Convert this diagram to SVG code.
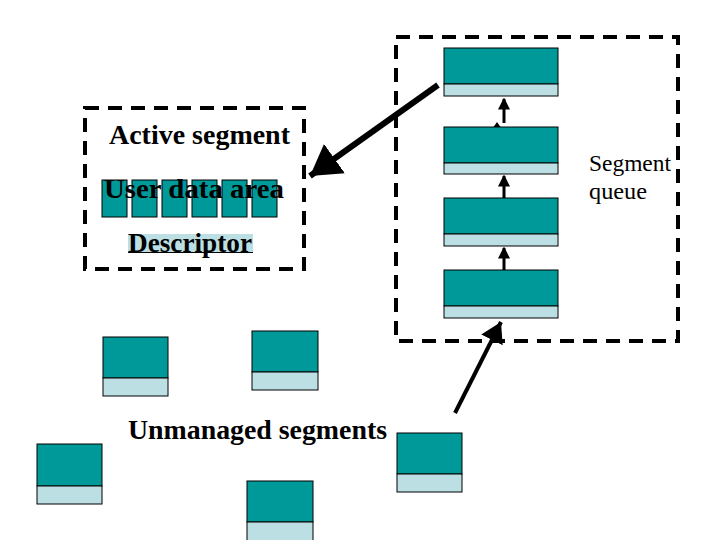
<svg xmlns="http://www.w3.org/2000/svg" width="720" height="540" viewBox="0 0 720 540">
<style>
.frame{fill:none;stroke:#000;stroke-width:4;stroke-dasharray:14 9}
.top{fill:#009999;stroke:#000;stroke-width:1}
.bot{fill:#BBDFE2;stroke:#000;stroke-width:1}
.bold{font-family:"Liberation Serif","Times New Roman",serif;font-weight:bold;font-size:27px;fill:#000}
.reg{font-family:"Liberation Serif","Times New Roman",serif;font-size:24px;fill:#000}
.conn{stroke:#000;fill:none}
</style>
<defs>
<marker id="bigHead" markerWidth="6" markerHeight="6" refX="5" refY="3" orient="auto" markerUnits="strokeWidth">
<path d="M0,0 L5,3 L0,6 z" fill="#000"/>
</marker>
<marker id="smallHead" markerWidth="4" markerHeight="4" refX="3.5" refY="2" orient="auto" markerUnits="strokeWidth">
<path d="M0,0 L4,2 L0,4 z" fill="#000"/>
</marker>
</defs>
<rect width="720" height="540" fill="#fff"/>

<g id="active-segment">
<rect class="frame" x="85" y="108" width="219" height="161"/>
<text class="bold" x="109" y="144" textLength="181" lengthAdjust="spacingAndGlyphs">Active segment</text>
<g id="user-data-area">
<rect class="top" x="102" y="180" width="25" height="37"/>
<rect class="top" x="132" y="180" width="25" height="37"/>
<rect class="top" x="162" y="180" width="25" height="37"/>
<rect class="top" x="192" y="180" width="25" height="37"/>
<rect class="top" x="222" y="180" width="25" height="37"/>
<rect class="top" x="252" y="180" width="25" height="37"/>
<text class="bold" x="104" y="198" textLength="180" lengthAdjust="spacingAndGlyphs">User data area</text>
</g>
<g id="descriptor">
<rect x="128" y="234" width="125" height="19" fill="#BBDFE2"/>
<line x1="128" y1="252.5" x2="253" y2="252.5" stroke="#000" stroke-width="1"/>
<text class="bold" x="128" y="252" textLength="124" lengthAdjust="spacingAndGlyphs">Descriptor</text>
</g>
</g>

<g id="segment-queue">
<rect class="frame" x="396" y="37" width="282" height="304"/>
<text class="reg" x="589" y="171" textLength="82" lengthAdjust="spacingAndGlyphs">Segment</text>
<text class="reg" x="589" y="199" textLength="58" lengthAdjust="spacingAndGlyphs">queue</text>
</g>

<g id="q1"><rect class="top" x="444" y="48" width="114" height="36"/><rect class="bot" x="444" y="84" width="114" height="12"/></g>
<g id="q2"><rect class="top" x="444" y="127" width="114" height="36"/><rect class="bot" x="444" y="163" width="114" height="11"/></g>
<g id="q3"><rect class="top" x="444" y="198" width="114" height="36"/><rect class="bot" x="444" y="234" width="114" height="12"/></g>
<g id="q4"><rect class="top" x="444" y="270" width="114" height="36"/><rect class="bot" x="444" y="306" width="114" height="12"/></g>

<g id="u1"><rect class="top" x="103" y="337" width="65" height="41"/><rect class="bot" x="103" y="378" width="65" height="18"/></g>
<g id="u2"><rect class="top" x="252" y="331" width="66" height="41"/><rect class="bot" x="252" y="372" width="66" height="18"/></g>
<g id="u3"><rect class="top" x="37" y="444" width="65" height="42"/><rect class="bot" x="37" y="486" width="65" height="18"/></g>
<g id="u4"><rect class="top" x="247" y="481" width="66" height="41"/><rect class="bot" x="247" y="522" width="66" height="20"/></g>
<g id="u5"><rect class="top" x="397" y="433" width="65" height="41"/><rect class="bot" x="397" y="474" width="65" height="18"/></g>
<text id="unmanaged-label" class="bold" x="128" y="439" textLength="259" lengthAdjust="spacingAndGlyphs">Unmanaged segments</text>

<g id="connectors">
<line class="conn" x1="438" y1="85" x2="310" y2="176" stroke-width="6" marker-end="url(#bigHead)"/>
<line class="conn" x1="455" y1="413" x2="501" y2="322" stroke-width="4" marker-end="url(#bigHead)"/>
<line class="conn" x1="504" y1="123" x2="504" y2="99" stroke-width="3" marker-end="url(#smallHead)"/>
<path d="M497,122 L493.5,127 L500.5,127 z" fill="#000"/>
<line class="conn" x1="504" y1="198" x2="504" y2="176" stroke-width="3" marker-end="url(#smallHead)"/>
<line class="conn" x1="504" y1="270" x2="504" y2="248" stroke-width="3" marker-end="url(#smallHead)"/>
</g>
</svg>
